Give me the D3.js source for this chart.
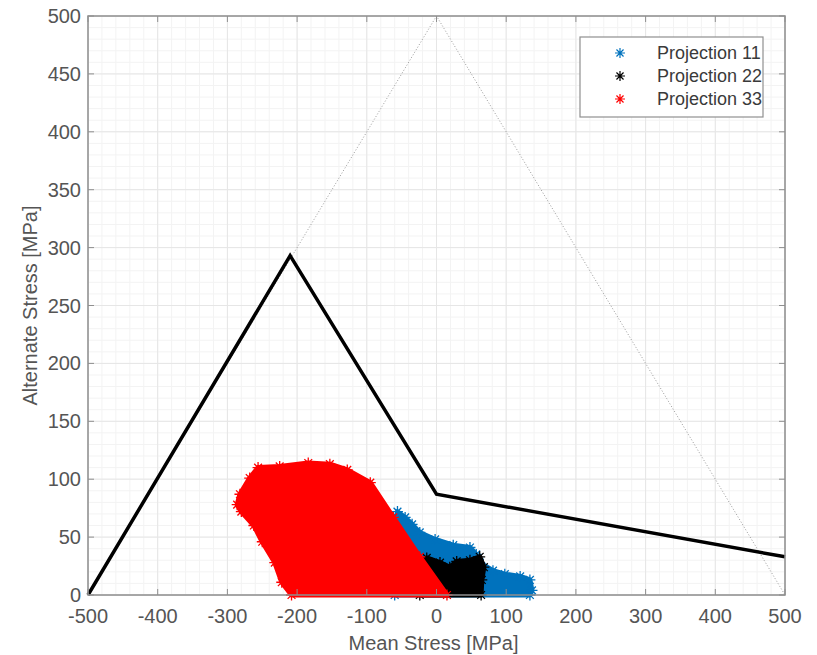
<!DOCTYPE html>
<html>
<head>
<meta charset="utf-8">
<script src="https://cdn.jsdelivr.net/npm/d3@7"></script>
<style>
  body { margin: 0; background: #fff; }
  text { font-family: "Liberation Sans", Arial, Helvetica, sans-serif; }
</style>
</head>
<body>
<div id="container"></div>
<script>
// tick values
const xTicks = [-500, -400, -300, -200, -100, 0, 100, 200, 300, 400, 500];
const yTicks = [0, 50, 100, 150, 200, 250, 300, 350, 400, 450, 500];

// limit lines (mean, alternate)
const limitLine = [[-500, 0], [-210, 293], [0, 87], [500, 33]];
const refLine = [[-500, 0], [0, 500], [500, 0]];

// outline of each point cloud
const proj11 = [[-60, 0], [-56, 72], [-45, 67], [-35, 61], [-24, 54], [-2, 48], [24, 43], [48, 41],
  [57, 35], [62, 28], [81, 21], [98, 18], [120, 16], [134, 13], [137, 4], [134, 0]];
const proj22 = [[-24, 0], [-14, 32], [5, 28], [19, 24], [29, 29], [48, 30], [62, 33], [68, 24],
  [65, 13], [64, 0]];
const proj33 = [[-282, 87], [-286, 78], [-280, 72], [-262, 60], [-250, 46], [-232, 28], [-222, 11],
  [-208, 0], [15, 0], [-24, 33], [-62, 67], [-95, 97], [-128, 108], [-153, 113], [-184, 114],
  [-225, 111], [-256, 110], [-268, 101]];

const seriesNames = ["Projection 11", "Projection 22", "Projection 33"];
const seriesColors = ["#0072BD", "#000000", "#FF0000"];
const seriesData = [proj11, proj22, proj33];

const W = 817, H = 655;
const mLeft = 88, mRight = 785, mTop = 16, mBottom = 595;

const svg = d3.select("#container").append("svg")
  .attr("width", W).attr("height", H);

const x = d3.scaleLinear().domain([-500, 500]).range([mLeft, mRight]);
const y = d3.scaleLinear().domain([0, 500]).range([mBottom, mTop]);

// minor grid
const g = svg.append("g");
g.selectAll(".mx").data(d3.range(-500, 501, 20)).join("line")
  .attr("x1", d => x(d)).attr("x2", d => x(d)).attr("y1", mTop).attr("y2", mBottom)
  .attr("stroke", "#f3f3f3").attr("stroke-width", 1);
g.selectAll(".my").data(d3.range(0, 501, 10)).join("line")
  .attr("y1", d => y(d)).attr("y2", d => y(d)).attr("x1", mLeft).attr("x2", mRight)
  .attr("stroke", "#f3f3f3").attr("stroke-width", 1);
// major grid
g.selectAll(".gx").data(xTicks).join("line")
  .attr("x1", d => x(d)).attr("x2", d => x(d)).attr("y1", mTop).attr("y2", mBottom)
  .attr("stroke", "#e6e6e6").attr("stroke-width", 1);
g.selectAll(".gy").data(yTicks).join("line")
  .attr("y1", d => y(d)).attr("y2", d => y(d)).attr("x1", mLeft).attr("x2", mRight)
  .attr("stroke", "#e6e6e6").attr("stroke-width", 1);

const line = d3.line().x(d => x(d[0])).y(d => y(d[1]));

function starPath(r) {
  let p = "";
  for (let k = 0; k < 4; k++) {
    const a = k * Math.PI / 4;
    p += `M${-r * Math.cos(a)},${-r * Math.sin(a)}L${r * Math.cos(a)},${r * Math.sin(a)}`;
  }
  return p;
}

// clouds
seriesData.forEach((pts, i) => {
  svg.append("path")
    .attr("d", line(pts) + "Z")
    .attr("fill", seriesColors[i])
    .attr("stroke", seriesColors[i])
    .attr("stroke-width", 5)
    .attr("stroke-linejoin", "round");
  svg.append("g").selectAll("path").data(pts).join("path")
    .attr("d", starPath(5.5))
    .attr("transform", d => `translate(${x(d[0])},${y(d[1])})`)
    .attr("stroke", seriesColors[i])
    .attr("stroke-width", 1.3)
    .attr("fill", "none");
});

// dotted reference line
svg.append("path").attr("d", line(refLine))
  .attr("fill", "none").attr("stroke", "#9a9a9a")
  .attr("stroke-width", 1).attr("stroke-dasharray", "1,2");

// limit line
svg.append("path").attr("d", line(limitLine))
  .attr("fill", "none").attr("stroke", "#000")
  .attr("stroke-width", 3.5).attr("stroke-linejoin", "miter");

// box and ticks
const axisColor = "#8f8f8f";
svg.append("rect").attr("x", mLeft).attr("y", mTop)
  .attr("width", mRight - mLeft).attr("height", mBottom - mTop)
  .attr("fill", "none").attr("stroke", axisColor).attr("stroke-width", 1.5);
const tl = 6;
xTicks.forEach(t => {
  svg.append("line").attr("x1", x(t)).attr("x2", x(t)).attr("y1", mBottom).attr("y2", mBottom - tl)
    .attr("stroke", axisColor);
  svg.append("line").attr("x1", x(t)).attr("x2", x(t)).attr("y1", mTop).attr("y2", mTop + tl)
    .attr("stroke", axisColor);
});
yTicks.forEach(t => {
  svg.append("line").attr("y1", y(t)).attr("y2", y(t)).attr("x1", mLeft).attr("x2", mLeft + tl)
    .attr("stroke", axisColor);
  svg.append("line").attr("y1", y(t)).attr("y2", y(t)).attr("x1", mRight).attr("x2", mRight - tl)
    .attr("stroke", axisColor);
});

// tick labels
const labelColor = "#555";
svg.append("g").selectAll("text").data(xTicks).join("text")
  .attr("x", d => x(d)).attr("y", 623)
  .attr("text-anchor", "middle").attr("font-size", 20).attr("fill", labelColor)
  .text(d => d);
svg.append("g").selectAll("text").data(yTicks).join("text")
  .attr("x", 81).attr("y", d => y(d) + 7)
  .attr("text-anchor", "end").attr("font-size", 20).attr("fill", labelColor)
  .text(d => d);

// axis titles
svg.append("text").attr("x", (mLeft + mRight) / 2 - 3).attr("y", 650)
  .attr("text-anchor", "middle").attr("font-size", 20).attr("fill", labelColor)
  .text("Mean Stress [MPa]");
svg.append("text").attr("transform", `translate(37,${(mTop + mBottom) / 2}) rotate(-90)`)
  .attr("text-anchor", "middle").attr("font-size", 20).attr("fill", labelColor)
  .text("Alternate Stress [MPa]");

// legend
const lg = svg.append("g").attr("transform", "translate(580,37)");
lg.append("rect").attr("width", 183).attr("height", 80)
  .attr("fill", "#fff").attr("stroke", "#8f8f8f").attr("stroke-width", 1.2);
seriesNames.forEach((n, i) => {
  lg.append("path").attr("d", starPath(5))
    .attr("transform", `translate(40,${16 + i * 23})`)
    .attr("stroke", seriesColors[i]).attr("stroke-width", 1.2).attr("fill", "none");
  lg.append("text").attr("x", 77).attr("y", 22 + i * 23)
    .attr("font-size", 18).attr("fill", "#3a3a3a").text(n);
});
</script>
</body>
</html>
